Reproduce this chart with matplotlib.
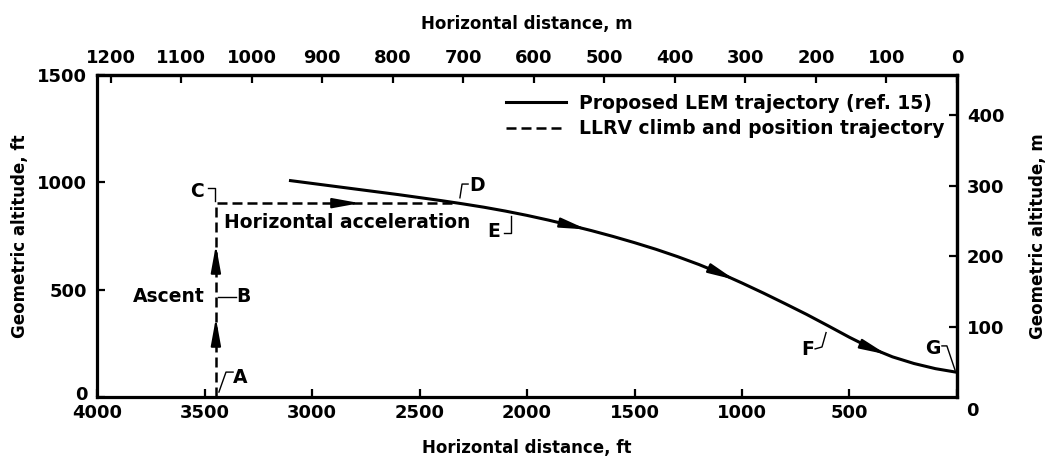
import numpy as np
import matplotlib
matplotlib.use("Agg")
import matplotlib.pyplot as plt
from matplotlib.transforms import ScaledTranslation

plt.rcParams['font.family'] = ['DejaVu Sans']
plt.rcParams['font.weight'] = 'bold'

FT_PER_M = 3.28084

# Proposed LEM trajectory (horizontal distance ft, altitude ft)
lem_x = [3100, 3000, 2900, 2800, 2700, 2600, 2500, 2400, 2300, 2200, 2100, 2000, 1900,
         1800, 1700, 1600, 1500, 1400, 1300, 1200, 1100, 1000, 900, 800, 700, 600,
         500, 400, 300, 200, 100, 0]
lem_y = [1008, 995, 982, 969, 956, 943, 929, 915, 900, 884, 866, 846, 824,
         800, 775, 748, 719, 688, 654, 617, 576, 531, 484, 435, 385, 332,
         278, 228, 187, 156, 132, 115]
lem_arrow_x = [1721, 1033, 326]

# LLRV climb and position trajectory
llrv_x = [3447, 3447, 2330]
llrv_y = [0, 903, 903]
ascent_arrow_y = [708, 368]
accel_arrow_x = [2777]

x_ticks_ft = [4000, 3500, 3000, 2500, 2000, 1500, 1000, 500, 0]
y_ticks_ft = [0, 500, 1000, 1500]
x_ticks_m = [1200, 1100, 1000, 900, 800, 700, 600, 500, 400, 300, 200, 100, 0]
y_ticks_m = [100, 200, 300, 400]

fig = plt.figure(figsize=(10.51, 4.57), dpi=100)
ax = fig.add_axes([97/1051, 1-397/457, 860/1051, 322/457])
ax.set_xlim(4000, 0)
ax.set_ylim(0, 1500)

LW_SPINE = 2.3
for s in ax.spines.values():
    s.set_linewidth(LW_SPINE)

tick_kw = dict(direction='in', length=6, width=1.6, labelsize=13)
ax.set_xticks(x_ticks_ft)
ax.set_yticks(y_ticks_ft)
ax.tick_params(axis='x', pad=5, **tick_kw)
ax.tick_params(axis='y', pad=7, **tick_kw)

secx = ax.secondary_xaxis('top', functions=(lambda f: f / FT_PER_M, lambda m: m * FT_PER_M))
secx.set_xticks(x_ticks_m)
secx.tick_params(axis='x', pad=5.5, **tick_kw)
secx.spines['top'].set_linewidth(LW_SPINE)
secx.set_xlabel('Horizontal distance, m', fontsize=12, fontweight='bold', labelpad=15)

secy = ax.secondary_yaxis('right', functions=(lambda f: f / FT_PER_M, lambda m: m * FT_PER_M))
secy.set_yticks(y_ticks_m)
secy.tick_params(axis='y', pad=7, **tick_kw)
secy.spines['right'].set_linewidth(LW_SPINE)
secy.set_ylabel('Geometric altitude, m', fontsize=12, fontweight='bold', labelpad=18)

ax.set_xlabel('Horizontal distance, ft', fontsize=12, fontweight='bold', labelpad=12)
ax.set_ylabel('Geometric altitude, ft', fontsize=12, fontweight='bold', labelpad=6)

# The shared corner zero sits just outside the lower-right corner,
# and the left-axis zero is nudged up clear of the bottom labels.
xlabels = ax.xaxis.get_majorticklabels()
ylabels = ax.yaxis.get_majorticklabels()
xlabels[-1].set_transform(xlabels[-1].get_transform()
                          + ScaledTranslation(15/100, 2/100, fig.dpi_scale_trans))
ylabels[0].set_transform(ylabels[0].get_transform()
                         + ScaledTranslation(0, 4/100, fig.dpi_scale_trans))

# Trajectories
ax.plot(lem_x, lem_y, color='black', lw=2.2, solid_joinstyle='round',
        label='Proposed LEM trajectory (ref. 15)')
ax.plot(llrv_x, llrv_y, color='black', lw=1.8, linestyle=(0, (4, 2)),
        label='LLRV climb and position trajectory')

# Direction arrows
arrow_kw = dict(arrowstyle='-|>,head_length=0.55,head_width=0.1', mutation_scale=30,
                color='black', lw=1.5, shrinkA=0, shrinkB=0)
xs_rev = np.array(lem_x[::-1])
ys_rev = np.array(lem_y[::-1])
for xa in lem_arrow_x:
    xb = xa + 60
    ax.annotate('', xy=(xa, np.interp(xa, xs_rev, ys_rev)),
                xytext=(xb, np.interp(xb, xs_rev, ys_rev)), arrowprops=arrow_kw)
for ya in ascent_arrow_y:
    ax.annotate('', xy=(llrv_x[0], ya), xytext=(llrv_x[0], ya - 60), arrowprops=arrow_kw)
for xa in accel_arrow_x:
    ax.annotate('', xy=(xa, llrv_y[1]), xytext=(xa + 80, llrv_y[1]), arrowprops=arrow_kw)

# Point labels with leader lines
lab_kw = dict(fontsize=13.5, fontweight='bold', va='center')
leader_kw = dict(color='black', lw=1.0)
points = {
    'C': ((3535, 955), [(3484, 973), (3451, 973), (3451, 913)]),
    'D': ((2233, 983), [(2274, 992), (2302, 992), (2312, 928)]),
    'E': ((2153, 773), [(2107, 764), (2074, 764), (2074, 845)]),
    'F': ((693, 219), [(660, 224), (628, 233), (609, 300)]),
    'G': ((112, 224), [(70, 238), (47, 238), (9, 125)]),
    'A': ((3335, 93), [(3367, 116), (3400, 116), (3433, 23)]),
    'B': ((3321, 466), [(3437, 466), (3353, 466)]),
}
for name, (pos, leader) in points.items():
    ax.text(pos[0], pos[1], name, ha='center', **lab_kw)
    lx, ly = zip(*leader)
    ax.plot(lx, ly, **leader_kw)

ax.text(3498, 466, 'Ascent', ha='right', **lab_kw)
ax.text(3409, 815, 'Horizontal acceleration', ha='left', **lab_kw)

leg = ax.legend(loc='upper right', bbox_to_anchor=(1.007, 1.0), frameon=False,
                handlelength=3.2, handletextpad=0.7, labelspacing=0.36,
                borderaxespad=0.6, prop={'weight': 'bold', 'size': 13.5})

fig.savefig('out.png', dpi=100)
